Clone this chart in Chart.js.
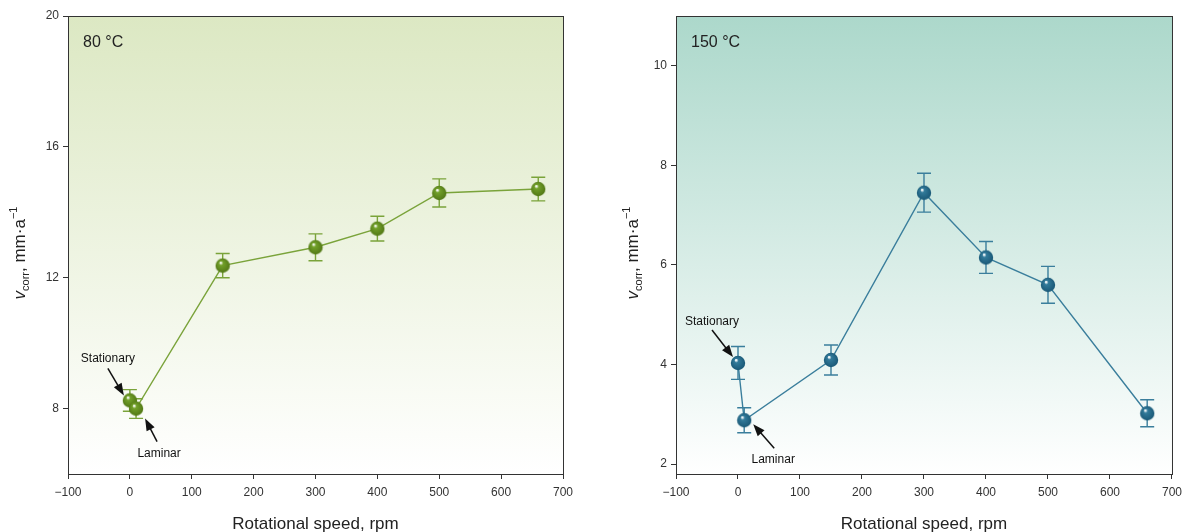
<!DOCTYPE html>
<html>
<head>
<meta charset="utf-8">
<script src="https://cdn.jsdelivr.net/npm/chart.js@4.4.1/dist/chart.umd.min.js"></script>
<style>
  body { margin: 0; background: #fff; overflow: hidden; }
  .wrap { position: relative; width: 1184px; height: 532px; overflow: hidden; }
  canvas { position: absolute; top: 0; }
  #c80 { left: 0; }
  #c150 { left: 592px; }
</style>
</head>
<body>
<div class="wrap">
  <canvas id="c80" width="592" height="532"></canvas>
  <canvas id="c150" width="596" height="532"></canvas>
</div>
<script>
// rotational speed, rpm (stationary, laminar, then rotating)
const speeds = [0, 10, 150, 300, 400, 500, 660];
const pointNames = ["Stationary", "Laminar", "", "", "", "", ""];

// corrosion rate at 80 °C and 150 °C, mm/a, with error half-widths
const vcorr80 = [8.25, 8.0, 12.37, 12.93, 13.5, 14.59, 14.71];
const err80 = [0.33, 0.3, 0.37, 0.41, 0.38, 0.43, 0.36];
const vcorr150 = [4.03, 2.88, 4.09, 7.45, 6.15, 5.6, 3.02];
const err150 = [0.33, 0.25, 0.3, 0.39, 0.32, 0.37, 0.27];

const xTicks = [-100, 0, 100, 200, 300, 400, 500, 600, 700];
const yTicks80 = [8, 12, 16, 20];
const yTicks150 = [2, 4, 6, 8, 10];

const FONT = "'Liberation Sans', Arial, sans-serif";
Chart.defaults.font.family = FONT;
Chart.defaults.color = "#333";

function sphere(base, dark) {
  const c = document.createElement("canvas");
  c.width = 16; c.height = 16;
  const g = c.getContext("2d");
  const rg = g.createRadialGradient(6, 5, 0.5, 8, 8, 8);
  rg.addColorStop(0, "#ffffff");
  rg.addColorStop(0.22, base);
  rg.addColorStop(1, dark);
  g.fillStyle = rg;
  g.beginPath();
  g.arc(8, 8, 7.2, 0, Math.PI * 2);
  g.fill();
  return c;
}

const panelPlugin = {
  id: "panel",
  beforeDraw(chart, args, o) {
    const { ctx, chartArea: a } = chart;
    const gr = ctx.createLinearGradient(0, a.top, 0, a.bottom);
    gr.addColorStop(0, o.top);
    gr.addColorStop(1, "#ffffff");
    ctx.save();
    ctx.fillStyle = gr;
    ctx.fillRect(a.left, a.top, a.right - a.left, a.bottom - a.top);
    ctx.restore();
  },
  beforeDatasetsDraw(chart, args, o) {
    const { ctx, scales } = chart;
    const ds = chart.data.datasets[0];
    ctx.save();
    ctx.strokeStyle = ds.borderColor;
    ctx.lineWidth = 1.4;
    ds.data.forEach((p, i) => {
      const x = scales.x.getPixelForValue(p.x);
      const y1 = scales.y.getPixelForValue(p.y + o.err[i]);
      const y2 = scales.y.getPixelForValue(p.y - o.err[i]);
      ctx.beginPath();
      ctx.moveTo(x, y1); ctx.lineTo(x, y2);
      ctx.moveTo(x - 7, y1); ctx.lineTo(x + 7, y1);
      ctx.moveTo(x - 7, y2); ctx.lineTo(x + 7, y2);
      ctx.stroke();
    });
    ctx.restore();
  },
  afterDraw(chart, args, o) {
    const { ctx, chartArea: a, scales } = chart;
    ctx.save();
    // frame
    ctx.strokeStyle = "#333";
    ctx.lineWidth = 1;
    ctx.strokeRect(a.left + 0.5, a.top + 0.5, a.right - a.left, a.bottom - a.top);
    // panel label
    ctx.fillStyle = "#222";
    ctx.font = "16px " + FONT;
    ctx.textBaseline = "alphabetic";
    ctx.fillText(o.label, a.left + 15, a.top + 31);
    // x title
    ctx.font = "17px " + FONT;
    ctx.textAlign = "center";
    ctx.fillText("Rotational speed, rpm", (a.left + a.right) / 2, 529);
    // y title with subscript / superscript
    ctx.translate(o.titleX, (a.top + a.bottom) / 2 + 8);
    ctx.rotate(-Math.PI / 2);
    const parts = [
      ["italic 17px " + FONT, "v", 0],
      ["11px " + FONT, "corr", 4],
      ["17px " + FONT, ", mm·a", 0],
      ["11px " + FONT, "−1", -8]
    ];
    let w = 0;
    parts.forEach(p => { ctx.font = p[0]; w += ctx.measureText(p[1]).width; });
    let x = -w / 2;
    ctx.textAlign = "left";
    parts.forEach(p => {
      ctx.font = p[0];
      ctx.fillText(p[1], x, p[2]);
      x += ctx.measureText(p[1]).width;
    });
    ctx.restore();

    // annotations with arrows
    ctx.save();
    ctx.font = "12px " + FONT;
    ctx.fillStyle = "#111";
    ctx.strokeStyle = "#111";
    ctx.textAlign = "center";
    o.notes.forEach(n => {
      const px = scales.x.getPixelForValue(speeds[n.i]);
      const py = scales.y.getPixelForValue(o.values[n.i]);
      ctx.fillText(pointNames[n.i], px + n.text[0], py + n.text[1] + 4);
      const tx = px + n.tip[0], ty = py + n.tip[1];
      const sx = px + n.tail[0], sy = py + n.tail[1];
      const ang = Math.atan2(ty - sy, tx - sx);
      ctx.lineWidth = 1.5;
      ctx.beginPath();
      ctx.moveTo(sx, sy);
      ctx.lineTo(tx - 8 * Math.cos(ang), ty - 8 * Math.sin(ang));
      ctx.stroke();
      ctx.beginPath();
      ctx.moveTo(tx, ty);
      ctx.lineTo(tx - 12 * Math.cos(ang) + 4.5 * Math.sin(ang), ty - 12 * Math.sin(ang) - 4.5 * Math.cos(ang));
      ctx.lineTo(tx - 12 * Math.cos(ang) - 4.5 * Math.sin(ang), ty - 12 * Math.sin(ang) + 4.5 * Math.cos(ang));
      ctx.closePath();
      ctx.fill();
    });
    ctx.restore();
  }
};

function makeChart(id, values, errs, yMin, yMax, yTicks, opts) {
  const axisStyle = {
    border: { display: true, color: "#333", width: 1 },
    grid: { drawOnChartArea: false, drawTicks: true, tickLength: 5, color: "#333" },
    ticks: { font: { size: 12 }, color: "#333", padding: 4 }
  };
  return new Chart(document.getElementById(id), {
    type: "line",
    data: {
      datasets: [{
        data: speeds.map((s, i) => ({ x: s, y: values[i] })),
        borderColor: opts.line,
        borderWidth: 1.4,
        pointStyle: sphere(opts.base, opts.dark),
        pointRadius: 7,
        tension: 0
      }]
    },
    options: {
      responsive: false,
      animation: false,
      devicePixelRatio: 1,
      layout: { padding: { top: 16, right: opts.padRight, left: 0, bottom: 0 } },
      plugins: {
        legend: { display: false },
        tooltip: { enabled: false },
        panel: {
          top: opts.bg, err: errs, values: values, label: opts.label,
          titleX: opts.titleX, notes: opts.notes
        }
      },
      scales: {
        x: {
          type: "linear", min: -100, max: 700,
          afterBuildTicks: s => { s.ticks = xTicks.map(v => ({ value: v })); },
          afterFit: s => { s.height = 58; },
          ticks: { ...axisStyle.ticks, padding: 6, callback: v => v < 0 ? "−" + Math.abs(v) : v },
          border: axisStyle.border, grid: axisStyle.grid
        },
        y: {
          type: "linear", min: yMin, max: yMax,
          afterBuildTicks: s => { s.ticks = yTicks.map(v => ({ value: v })); },
          afterFit: s => { s.width = opts.yWidth; },
          ticks: axisStyle.ticks, border: axisStyle.border, grid: axisStyle.grid
        }
      }
    },
    plugins: [panelPlugin]
  });
}

makeChart("c80", vcorr80, err80, 6, 20, yTicks80, {
  line: "#7aa33a", base: "#72a02a", dark: "#4f7414", bg: "#dce8c3",
  label: "80 °C", yWidth: 68, padRight: 29, titleX: 25,
  notes: [
    { i: 0, tip: [-6, -5], tail: [-22, -32], text: [-22, -42] },
    { i: 1, tip: [9, 10], tail: [21, 33], text: [23, 44] }
  ]
});

makeChart("c150", vcorr150, err150, 1.8, 11, yTicks150, {
  line: "#3a7e9c", base: "#327a9a", dark: "#175573", bg: "#acd8cb",
  label: "150 °C", yWidth: 84, padRight: 12, titleX: 46,
  notes: [
    { i: 0, tip: [-5, -6], tail: [-26, -33], text: [-26, -42] },
    { i: 1, tip: [9, 4], tail: [30, 28], text: [29, 39] }
  ]
});
</script>
</body>
</html>
